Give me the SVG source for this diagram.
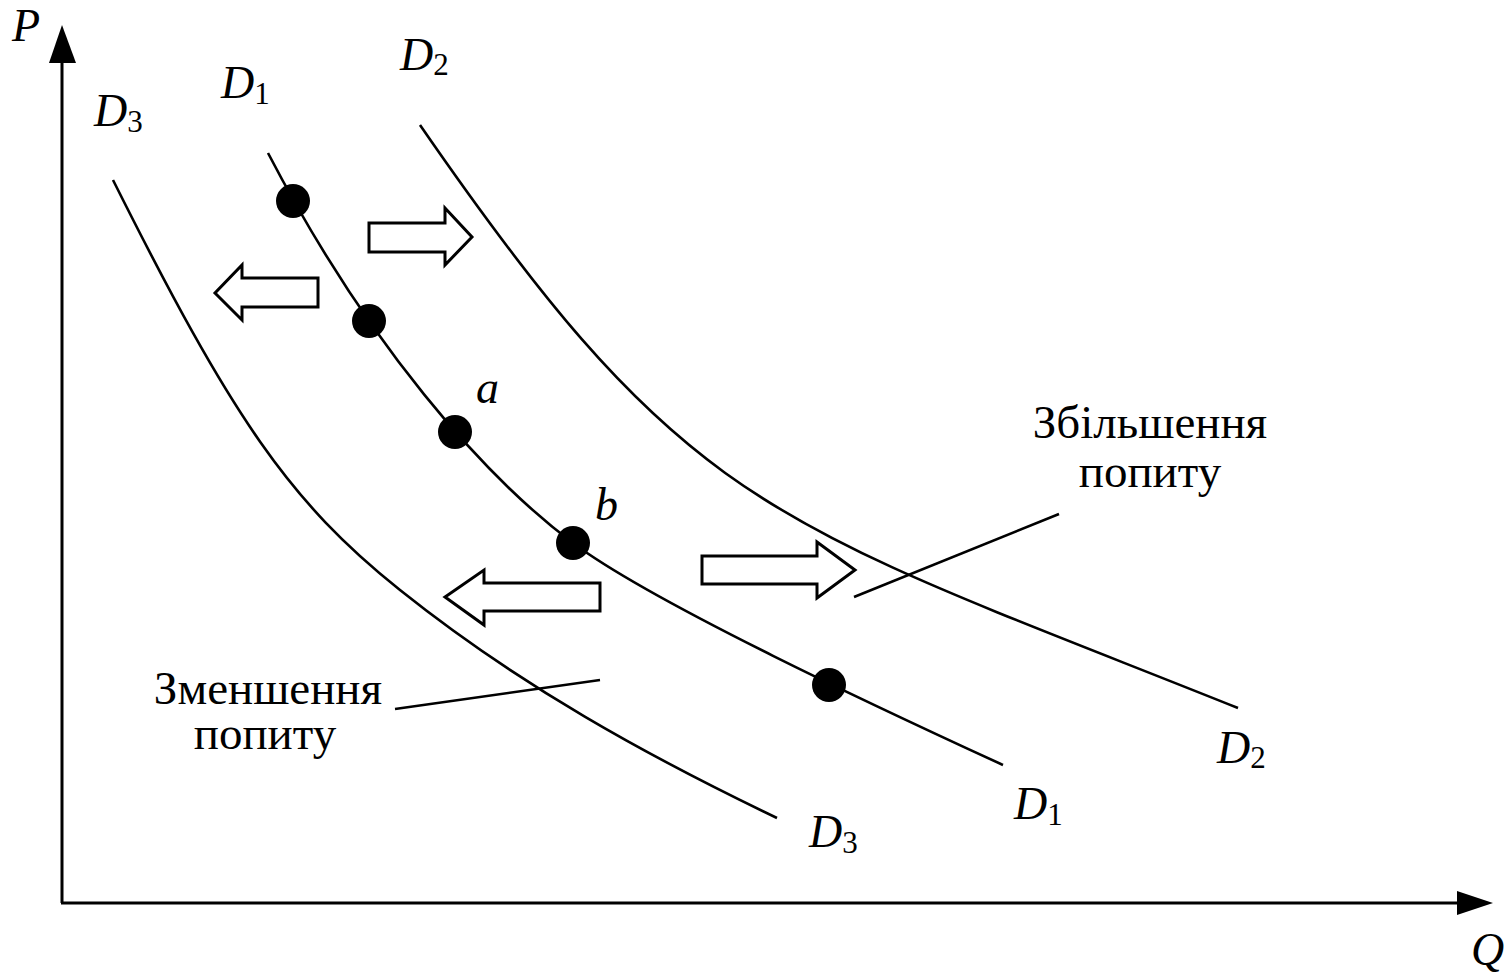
<svg xmlns="http://www.w3.org/2000/svg" width="1509" height="978" viewBox="0 0 1509 978">
<style>
.ax{stroke:#000;stroke-width:3;fill:none}
.cv{stroke:#000;stroke-width:2.6;fill:none;stroke-linecap:butt}
.ba{fill:#fff;stroke:#000;stroke-width:3;stroke-linejoin:miter}
.dot{fill:#000}
.it{font-family:"Liberation Serif","Times New Roman",serif;font-style:italic;font-size:46px;fill:#000}
.sub{font-style:normal;font-size:31px}
.lb{font-family:"Liberation Serif","Times New Roman",serif;font-size:47px;fill:#000;text-anchor:middle}
.pl{stroke:#000;stroke-width:2.6;fill:none}
</style>
<rect width="1509" height="978" fill="#fff"/>
<g id="axes">
<line class="ax" x1="62" y1="903" x2="62" y2="60"/>
<polygon points="62,25 76,63 49,63" fill="#000"/>
<line class="ax" x1="61" y1="903" x2="1460" y2="903"/>
<polygon points="1493,903 1457,891 1457,915" fill="#000"/>
<text class="it" x="12" y="41">P</text>
<text class="it" x="1471" y="965">Q</text>
</g>
<g id="curve-D3">
<path class="cv" d="M113,180 C233,420 290,502 400,590 C520,686 647,755.6 777,818"/>
<text class="it" x="94" y="126">D<tspan class="sub" dy="6">3</tspan></text>
<text class="it" x="809" y="847">D<tspan class="sub" dy="6">3</tspan></text>
</g>
<g id="curve-D1">
<path class="cv" d="M268,153 C368,345 483,475.5 573,543 C653,603 883,709.8 1003,765"/>
<text class="it" x="221" y="98">D<tspan class="sub" dy="6">1</tspan></text>
<text class="it" x="1014" y="819">D<tspan class="sub" dy="6">1</tspan></text>
</g>
<g id="curve-D2">
<path class="cv" d="M420,125 C690,516.5 768,520 1238,708"/>
<text class="it" x="400" y="70">D<tspan class="sub" dy="5">2</tspan></text>
<text class="it" x="1217" y="763">D<tspan class="sub" dy="5">2</tspan></text>
</g>
<g id="points">
<circle class="dot" cx="293" cy="201" r="17"/>
<circle class="dot" cx="369" cy="321" r="17"/>
<circle class="dot" cx="455" cy="432" r="17"/>
<circle class="dot" cx="573" cy="543" r="17"/>
<circle class="dot" cx="829" cy="685" r="17"/>
<text class="it" x="476" y="403">a</text>
<text class="it" x="595" y="520">b</text>
</g>
<g id="shift-arrows">
<polygon class="ba" points="369,223 445,223 445,208 472,237 445,265 445,252 369,252"/>
<polygon class="ba" points="318,278 242,278 242,265 215,293 242,320 242,307 318,307"/>
<polygon class="ba" points="600,583 484,583 484,570 445,597 484,625 484,611 600,611"/>
<polygon class="ba" points="702,556 817,556 817,542 855,570 817,598 817,584 702,584"/>
</g>
<g id="connectors">
<line class="pl" x1="854" y1="597" x2="1059" y2="514"/>
<line class="pl" x1="395" y1="709" x2="600" y2="680"/>
</g>
<g id="label-increase">
<text class="lb" x="1150" y="438">Збільшення</text>
<text class="lb" x="1150" y="487">попиту</text>
</g>
<g id="label-decrease">
<text class="lb" x="268" y="704">Зменшення</text>
<text class="lb" x="265" y="749">попиту</text>
</g>
</svg>
